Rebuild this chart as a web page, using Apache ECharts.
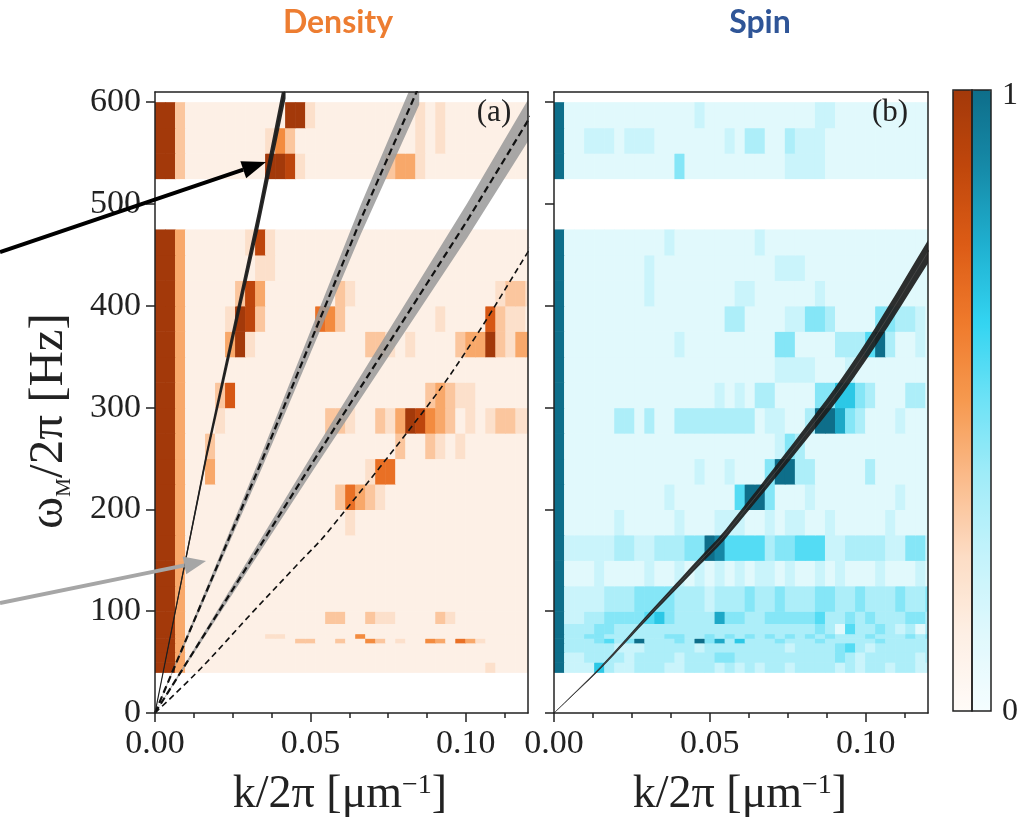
<!DOCTYPE html>
<html>
<head>
<meta charset="utf-8">
<script src="https://cdn.jsdelivr.net/npm/echarts@6/dist/echarts.min.js"></script>
<style>
  html, body { margin: 0; padding: 0; background: #fff; }
  #chart { width: 1026px; height: 822px; }
</style>
</head>
<body>
<div id="chart"></div>
<script>
// Normalised density / spin response versus wavevector k/2π and drive frequency ω_M/2π

// k/2π bin width [μm⁻¹]; each row string below holds one level (0–9) per k bin
const kStep = 0.00322;

// frequency bins [Hz], low to high (475–525 Hz was not measured)
const freqBins = [
  [40, 50], [50, 60], [60, 69], [69, 73.5], [73.5, 78], [78, 88], [88, 100],
  [100, 125], [125, 150], [150, 175], [175, 200], [200, 225], [225, 250],
  [250, 275], [275, 300], [300, 325], [325, 350], [350, 375], [375, 400],
  [400, 425], [425, 450], [450, 475], [525, 550], [550, 575], [575, 600]
];

const densityRows = [
  "9941111111" + "1111111111" + "1111111111" + "11121111",
  "9941111111" + "1111111111" + "1111111111" + "11111111",
  "9941111111" + "1111111111" + "1111111111" + "11111111",
  "9941111111" + "1111331131" + "1531211541" + "64211111",
  "9941111111" + "1221111111" + "5111111111" + "11111111",
  "9941111111" + "1111111111" + "1111111111" + "11111111",
  "9941111111" + "1111111331" + "1322111132" + "11111111",
  "9941111111" + "1111111111" + "1111111111" + "11111111",
  "9941111111" + "1111111111" + "1111111111" + "11111111",
  "9941111111" + "1111111111" + "1111111111" + "11111111",
  "9941111111" + "1111111112" + "1111111111" + "11111111",
  "9941111111" + "1111111136" + "4321111111" + "11111111",
  "9941141111" + "1111111111" + "1266111111" + "11111111",
  "9941131111" + "1111111111" + "1111311321" + "21111111",
  "9941112111" + "1111111332" + "1132498543" + "12123322",
  "9941113711" + "1111111111" + "1111111343" + "22111111",
  "9941111111" + "1111111111" + "1111111111" + "11111111",
  "9941111492" + "1111111111" + "1332121111" + "34493244",
  "9941111298" + "3111116531" + "1111111121" + "11173221",
  "9941111138" + "4111111132" + "1111111111" + "11112332",
  "9941111111" + "2211111111" + "1111111111" + "11111111",
  "9941111112" + "8211111111" + "1111111111" + "11111111",
  "9931111111" + "1998211111" + "1113442111" + "11111111",
  "9931111111" + "1253111111" + "1111112121" + "11111111",
  "9931111111" + "1119921111" + "1111112121" + "11111111"
];

const spinRows = [
  "9222632233" + "3223332323" + "2332333323" + "23323322",
  "9223333233" + "3323334433" + "3333333343" + "23333323",
  "9333332223" + "3333233333" + "3332333345" + "32333333",
  "9333453493" + "3343947363" + "3343334333" + "33433333",
  "9334433333" + "3443343434" + "3434343433" + "34333434",
  "9333443333" + "3333333333" + "3333334315" + "33432313",
  "9223344445" + "6433337443" + "3444445334" + "34333443",
  "9222233344" + "4433323334" + "3343334433" + "43334334",
  "9111211112" + "1121212121" + "2212112121" + "11211121",
  "9222223322" + "3334498555" + "5344555223" + "33322442",
  "9111112111" + "1121112221" + "1212211211" + "11121111",
  "9111111111" + "1211111159" + "9411121111" + "11112111",
  "9111111111" + "1111211211" + "1499331111" + "13111111",
  "9111111111" + "1111111111" + "1124311111" + "11111111",
  "9111113313" + "1133333333" + "1221139974" + "31112111",
  "9111111111" + "1111112121" + "3311114466" + "43111331",
  "9111111111" + "1111111111" + "1122221112" + "11111111",
  "9111111111" + "1121111111" + "1144111133" + "35931121",
  "9111111111" + "1111111331" + "1112244311" + "11443321",
  "9111111112" + "1111111122" + "1111112111" + "11111111",
  "9111111112" + "1111111111" + "1122211111" + "11111111",
  "9111111111" + "1211111111" + "2111111111" + "11111111",
  "9111111111" + "1141111111" + "1112222111" + "11111111",
  "9112221222" + "1111111213" + "3113222111" + "11111111",
  "9111111111" + "1111211111" + "1111112211" + "11111111"
];

const freqTicks = [0, 100, 200, 300, 400, 500, 600];
const kLabels = [0, 0.05, 0.10];
const kMinorTicks = [0, 0.0125, 0.025, 0.0375, 0.05, 0.0625, 0.075, 0.0875, 0.1, 0.1125];

// dispersion branches, [k/2π, ω/2π]
const densityBranch1 = [[0, 0], [0.0167, 255], [0.0332, 484], [0.042, 616]];
const densityBranch2 = [[0, 0], [0.0344, 248], [0.0661, 484], [0.085, 616]];
const densityBranch3 = [[0, 0], [0.0511, 248], [0.1005, 484], [0.122, 592]];
const spinBranch = [[0, 0], [0.0148, 44], [0.031, 97.7], [0.0471, 150], [0.0552, 176.4],
                    [0.089, 307], [0.1031, 369.5], [0.1202, 454], [0.122, 463]];

// relative uncertainty of each branch
const branch1Err = 0.02;
const branch2Err = 0.03;
const branch3Err = 0.035;
const spinErr = 0.025;

const serif = 'Liberation Serif';
const ink = '#222';

function cellData(rows) {
  const out = [];
  rows.forEach((row, r) => {
    const f0 = freqBins[r][0], f1 = freqBins[r][1];
    for (let c = 0; c < row.length; c++) {
      out.push([c * kStep, (c + 1) * kStep, f0, f1, Number(row[c]) / 9]);
    }
  });
  return out;
}

function renderCell(params, api) {
  const a = api.coord([api.value(0), api.value(3)]);
  const b = api.coord([api.value(1), api.value(2)]);
  return {
    type: 'rect',
    shape: { x: a[0], y: a[1], width: b[0] - a[0] + 0.6, height: b[1] - a[1] + 0.6 },
    style: { fill: api.visual('color') }
  };
}

function bandRenderer(points, err, fill, opacity, smooth) {
  return function (params, api) {
    const upper = points.map(p => api.coord([p[0], p[1] * (1 + err)]));
    const lower = points.map(p => api.coord([p[0], p[1] * (1 - err)])).reverse();
    return {
      type: 'polygon',
      shape: { points: upper.concat(lower), smooth: smooth },
      style: { fill: fill, opacity: opacity }
    };
  };
}

function cellSeries(rows, axis) {
  return {
    type: 'custom',
    xAxisIndex: axis.x, yAxisIndex: axis.y,
    clip: true,
    renderItem: renderCell,
    dimensions: ['k0', 'k1', 'f0', 'f1', 'level'],
    encode: { x: [0, 1], y: [2, 3] },
    data: cellData(rows),
    silent: true
  };
}

function bandSeries(points, err, fill, opacity, axis, smooth) {
  return {
    type: 'custom',
    xAxisIndex: axis.x, yAxisIndex: axis.y,
    clip: true,
    renderItem: bandRenderer(points, err, fill, opacity, smooth || 0),
    data: [[0, 0]],
    silent: true
  };
}

function lineSeries(points, style, axis, smooth) {
  return {
    type: 'line',
    xAxisIndex: axis.x, yAxisIndex: axis.y,
    data: points,
    showSymbol: false,
    smooth: smooth ? 0.35 : false,
    clip: true,
    lineStyle: style,
    silent: true
  };
}

function panelAxes(g, withLabels) {
  const tickStyle = { color: ink, width: 1.5 };
  const xMain = {
    type: 'value', gridIndex: g, min: 0, max: 0.12, position: 'bottom', z: 10,
    axisLine: { show: true, onZero: false, lineStyle: tickStyle },
    axisTick: { show: true, customValues: kLabels, length: 9, lineStyle: tickStyle },
    axisLabel: {
      show: true, customValues: kLabels, margin: 14,
      formatter: v => v.toFixed(2),
      fontFamily: serif, fontSize: 34, color: ink
    },
    splitLine: { show: false }
  };
  const xMinor = {
    type: 'value', gridIndex: g, min: 0, max: 0.12, position: 'bottom', z: 10,
    axisLine: { show: false },
    axisTick: { show: true, customValues: kMinorTicks, length: 5, lineStyle: tickStyle },
    axisLabel: { show: false },
    splitLine: { show: false }
  };
  const xTop = {
    type: 'value', gridIndex: g, min: 0, max: 0.12, position: 'top', z: 10,
    axisLine: { show: true, onZero: false, lineStyle: tickStyle },
    axisTick: { show: false }, axisLabel: { show: false }, splitLine: { show: false }
  };
  const yMain = {
    type: 'value', gridIndex: g, min: 0, max: 610, position: 'left', z: 10,
    axisLine: { show: true, onZero: false, lineStyle: tickStyle },
    axisTick: { show: true, customValues: freqTicks, length: 9, lineStyle: tickStyle },
    axisLabel: {
      show: withLabels, customValues: freqTicks, margin: 14,
      fontFamily: serif, fontSize: 34, color: ink
    },
    splitLine: { show: false }
  };
  const yRight = {
    type: 'value', gridIndex: g, min: 0, max: 610, position: 'right', z: 10,
    axisLine: { show: true, onZero: false, lineStyle: tickStyle },
    axisTick: { show: false }, axisLabel: { show: false }, splitLine: { show: false }
  };
  return { x: [xMain, xMinor, xTop], y: [yMain, yRight] };
}

const axesA = panelAxes(0, true);
const axesB = panelAxes(1, false);
const onA = { x: 0, y: 0 };
const onB = { x: 3, y: 2 };

const densityColors = ['#fffbf8', '#fdefe4', '#fcdcc4', '#fabb8b', '#f6994f',
                       '#ef7a2c', '#dc5c16', '#c0470c', '#a3390a'];
const spinColors = ['#f5fdff', '#dff8fc', '#c4f3fb', '#a2ecf8', '#6ee2f6',
                    '#33d4f1', '#1fb0d0', '#168aa8', '#0e6e8a'];

function arrow(tail, tip, color, width, headLen, headHalf) {
  const dx = tip[0] - tail[0], dy = tip[1] - tail[1];
  const len = Math.hypot(dx, dy);
  const ux = dx / len, uy = dy / len;
  const bx = tip[0] - ux * headLen, by = tip[1] - uy * headLen;
  return [
    { type: 'line', z: 100, shape: { x1: tail[0], y1: tail[1], x2: bx, y2: by },
      style: { stroke: color, lineWidth: width } },
    { type: 'polygon', z: 100,
      shape: { points: [tip, [bx - uy * headHalf, by + ux * headHalf], [bx + uy * headHalf, by - ux * headHalf]] },
      style: { fill: color } }
  ];
}

// k-axis title, centred under a panel
function kTitle(cx) {
  return {
    type: 'text', z: 100, x: cx, y: 818,
    style: {
      text: '{n|k/2π [μm}{p|−1}{n|]}', align: 'center', verticalAlign: 'bottom',
      rich: {
        n: { fontFamily: serif, fontSize: 46, fill: ink },
        p: { fontFamily: serif, fontSize: 28, fill: ink, verticalAlign: 'top' }
      }
    }
  };
}

const chart = echarts.init(document.getElementById('chart'), null, { renderer: 'canvas' });

chart.setOption({
  animation: false,
  backgroundColor: '#fff',
  grid: [
    { left: 155, top: 92, width: 373, height: 621, outerBoundsMode: 'none', containLabel: false },
    { left: 554, top: 92, width: 374, height: 621, outerBoundsMode: 'none', containLabel: false }
  ],
  xAxis: axesA.x.concat(axesB.x),
  yAxis: axesA.y.concat(axesB.y),
  visualMap: [
    {
      type: 'continuous', seriesIndex: 0, dimension: 4, min: 0, max: 1,
      orient: 'vertical', left: 953, top: 90, itemWidth: 19, itemHeight: 621,
      padding: 0, calculable: false, hoverLink: false,
      inRange: { color: densityColors }
    },
    {
      type: 'continuous', seriesIndex: 1, dimension: 4, min: 0, max: 1,
      orient: 'vertical', left: 972, top: 90, itemWidth: 19, itemHeight: 621,
      padding: 0, calculable: false, hoverLink: false,
      inRange: { color: spinColors }
    }
  ],
  series: [
    cellSeries(densityRows, onA),
    cellSeries(spinRows, onB),
    // density panel branches
    bandSeries(densityBranch2, branch2Err, '#999999', 0.85, onA),
    bandSeries(densityBranch3, branch3Err, '#999999', 0.85, onA),
    bandSeries(densityBranch1, branch1Err, '#1e1e1e', 0.95, onA),
    lineSeries(densityBranch1, { color: '#1e1e1e', width: 1.2 }, onA, false),
    lineSeries(densityBranch2, { color: '#111', width: 2.2, type: [7, 4] }, onA, false),
    lineSeries(densityBranch3, { color: '#111', width: 2.2, type: [7, 4] }, onA, false),
    lineSeries(spinBranch, { color: '#111', width: 1.6, type: [6, 4] }, onA, true),
    // spin panel branch
    bandSeries(spinBranch, spinErr, '#1c1c1c', 0.92, onB, 0.3),
    lineSeries(spinBranch, { color: '#444', width: 1 }, onB, true)
  ],
  graphic: [
    { type: 'text', z: 100, style: { x: 338, y: 23, text: 'Density', align: 'center', verticalAlign: 'middle',
      font: 'bold 32px Lato', fill: '#ED7D31' } },
    { type: 'text', z: 100, style: { x: 760, y: 23, text: 'Spin', align: 'center', verticalAlign: 'middle',
      font: 'bold 32px Lato', fill: '#2F5597' } },
    // frequency axis title
    { type: 'text', z: 100, x: 49, y: 421, rotation: Math.PI / 2,
      style: {
        text: '{w|ω}{s|M}{w|/2π [Hz]}', align: 'center', verticalAlign: 'middle',
        rich: {
          w: { fontFamily: serif, fontSize: 49, fill: ink, lineHeight: 52 },
          s: { fontFamily: serif, fontSize: 21, fill: ink, verticalAlign: 'bottom', lineHeight: 52 }
        }
      } },
    kTitle(340),
    kTitle(740),
    { type: 'text', z: 100, style: { x: 494, y: 113, text: '(a)', align: 'center', verticalAlign: 'middle',
      font: '31px "Liberation Serif"', fill: ink } },
    { type: 'text', z: 100, style: { x: 890, y: 113, text: '(b)', align: 'center', verticalAlign: 'middle',
      font: '31px "Liberation Serif"', fill: ink } },
    { type: 'rect', z: 100, shape: { x: 953, y: 90, width: 19, height: 621 },
      style: { fill: 'none', stroke: ink, lineWidth: 1.5 } },
    { type: 'rect', z: 100, shape: { x: 972, y: 90, width: 19, height: 621 },
      style: { fill: 'none', stroke: ink, lineWidth: 1.5 } },
    { type: 'text', z: 100, style: { x: 1002, y: 96, text: '1', align: 'left', verticalAlign: 'middle',
      font: '32px "Liberation Serif"', fill: ink } },
    { type: 'text', z: 100, style: { x: 1002, y: 712, text: '0', align: 'left', verticalAlign: 'middle',
      font: '32px "Liberation Serif"', fill: ink } }
  ].concat(
    arrow([0, 252], [266, 162], '#000', 4, 24, 9),
    arrow([0, 603], [206, 561], '#a6a6a6', 4, 22, 9)
  )
});
</script>
</body>
</html>
